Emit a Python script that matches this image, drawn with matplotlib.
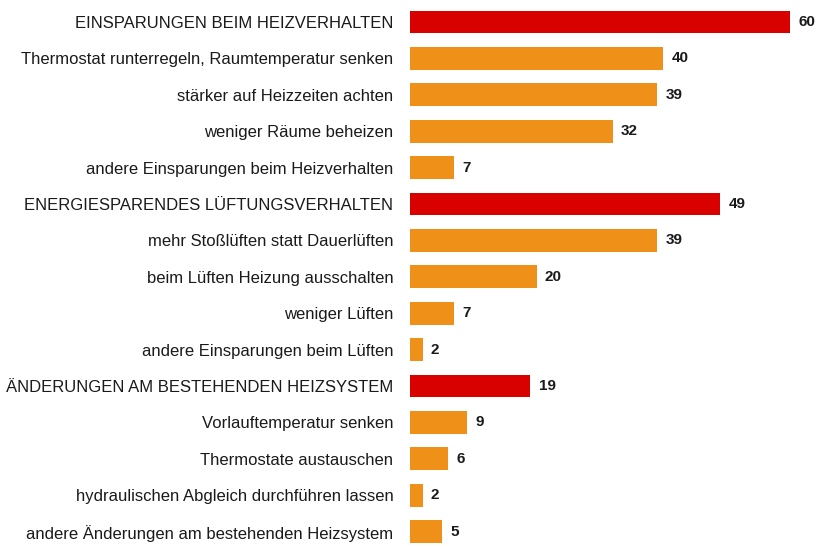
import matplotlib
matplotlib.use("Agg")
import matplotlib.pyplot as plt

categories = [
    "EINSPARUNGEN BEIM HEIZVERHALTEN",
    "Thermostat runterregeln, Raumtemperatur senken",
    "stärker auf Heizzeiten achten",
    "weniger Räume beheizen",
    "andere Einsparungen beim Heizverhalten",
    "ENERGIESPARENDES LÜFTUNGSVERHALTEN",
    "mehr Stoßlüften statt Dauerlüften",
    "beim Lüften Heizung ausschalten",
    "weniger Lüften",
    "andere Einsparungen beim Lüften",
    "ÄNDERUNGEN AM BESTEHENDEN HEIZSYSTEM",
    "Vorlauftemperatur senken",
    "Thermostate austauschen",
    "hydraulischen Abgleich durchführen lassen",
    "andere Änderungen am bestehenden Heizsystem",
]
values = [60, 40, 39, 32, 7, 49, 39, 20, 7, 2, 19, 9, 6, 2, 5]
is_header = [True, False, False, False, False, True, False, False, False, False,
             True, False, False, False, False]

RED = "#D90000"
ORANGE = "#EF9119"

plt.rcParams['font.family'] = ['Liberation Sans', 'DejaVu Sans']

fig = plt.figure(figsize=(8.19, 5.47), dpi=100)
ax = fig.add_axes([410/819, 1 - 549.8/547, 400.8/819, 546/547])

n = len(values)
ypos = list(range(n))
colors = [RED if h else ORANGE for h in is_header]
ax.barh(ypos, values, height=0.63, color=colors)
ax.set_ylim(n - 0.5, -0.5)
ax.set_xlim(0, 63.3)

for y, v in zip(ypos, values):
    ax.annotate(str(v), (v, y), xytext=(6, 0), textcoords="offset points",
                va="center", ha="left", fontsize=11, fontweight="bold", color="#1a1a1a")

ax.set_yticks(ypos)
ax.set_yticklabels(categories, fontsize=12, color="#1a1a1a")
ax.tick_params(axis="y", length=0, pad=12)
ax.set_xticks([])
for s in ax.spines.values():
    s.set_visible(False)

fig.savefig("out.png", dpi=100, facecolor="white")
